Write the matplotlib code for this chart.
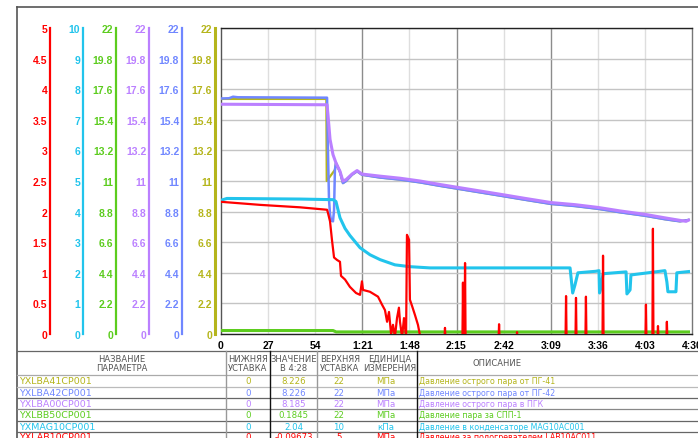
import matplotlib
matplotlib.use("Agg")
import matplotlib.pyplot as plt

plt.rcParams['font.family'] = ['Liberation Sans Narrow', 'Liberation Sans', 'DejaVu Sans']

# ---- data (time in seconds, 0..4:30) ----
x_ticks = [0, 27, 54, 81, 108, 135, 162, 189, 216, 243, 270]
x_tick_labels = ["0", "27", "54", "1:21", "1:48", "2:15", "2:42", "3:09", "3:36", "4:03", "4:30"]

# YXLAB10CP001, MPa, scale 0..5
red_t = [0, 22.4, 45.3, 60.8, 61.3, 62.5, 63.6, 64.8, 66.5, 68.2, 68.8, 71.1, 73.9, 77.4, 79.7,
         80.8, 81.4, 85.4, 90.0, 92.3, 94.0, 95.2, 96.3, 97.5, 98.6, 99.7, 100.9, 102.0, 102.6,
         103.8, 104.9, 106.1, 106.6, 107.8, 108.3, 109.5, 111.2, 112.9, 114.6,
         128.1, 128.4, 128.7, 138.4, 138.7, 139.0, 139.6, 139.9, 140.2, 159.1, 159.4, 159.7,
         169.4, 169.7, 170.0, 197.5, 197.8, 198.1, 203.2, 203.5, 203.8, 208.9, 209.2, 209.5,
         218.7, 219.0, 219.3, 243.3, 243.6, 243.9, 247.3, 247.6, 247.9, 250.2, 250.5, 250.8,
         255.3, 255.6, 255.9, 268]
red_v = [2.16, 2.11, 2.07, 2.03, 1.98, 1.84, 1.54, 1.25, 1.21, 1.18, 0.95, 0.89, 0.77, 0.67, 0.64,
         0.86, 0.72, 0.69, 0.61, 0.48, 0.39, 0.20, 0.36, 0.00, 0.15, -0.05, 0.26, 0.43, 0.20,
         -0.05, 0.26, -0.05, 1.62, 1.54, 0.56, 0.46, 0.31, 0.15, -0.10,
         -0.10, 0.10, -0.10, -0.10, 0.84, -0.10, -0.10, 1.16, -0.10, -0.10, 0.16, -0.10,
         -0.10, 0.03, -0.10, -0.10, 0.62, -0.10, -0.10, 0.59, -0.10, -0.10, 0.61, -0.10,
         -0.10, 1.28, -0.10, -0.10, 0.48, -0.10, -0.10, 1.72, -0.10, -0.10, 0.13, -0.10,
         -0.10, 0.20, -0.10, -0.10]

# YXMAG10CP001, kPa, scale 0..10
cyan_t = [0, 3.4, 45.3, 64.2, 65.9, 68.2, 71.1, 73.9, 79.7, 85.4, 91.2, 99.7, 108.3, 119.8,
          200.1, 201.6, 202.9, 204.6, 214.9, 216.7, 217.0, 217.8, 219.0, 232.2, 232.7, 234.5,
          235.0, 254.5, 255.6, 256.2, 260.8, 261.3, 268]
cyan_v = [4.37, 4.43, 4.41, 4.39, 4.33, 3.80, 3.45, 3.22, 2.82, 2.59, 2.43, 2.26, 2.20, 2.16,
          2.16, 1.34, 1.60, 2.00, 2.05, 2.07, 1.34, 1.50, 1.97, 2.03, 1.31, 1.44,
          1.93, 2.07, 1.70, 1.38, 1.38, 2.00, 2.04]

# YXLBA00CP001, MPa, scale 0..22
violet_t = [0, 60.8, 61.3, 62.5, 64.2, 65.9, 68.2, 69.9, 71.7, 75.1, 78.0, 80.8, 91.1, 102.6,
            114.1, 125.5, 142.7, 159.9, 174.3, 189.2, 202.9, 216.1, 228.7, 243.1, 254.5, 263.1,
            266.6, 268]
violet_v = [16.52, 16.48, 15.8, 14.0, 12.9, 12.3, 11.7, 11.0, 11.1, 11.5, 11.75, 11.5, 11.35, 11.2,
            11.0, 10.75, 10.4, 10.05, 9.75, 9.45, 9.3, 9.1, 8.85, 8.6, 8.35, 8.17,
            8.1, 8.185]

# YXLBA42CP001, MPa, scale 0..22
blue_t = [0, 4.6, 6.9, 9.7, 60.8, 61.3, 61.9, 62.5, 63.1, 64.2, 64.8, 65.3, 65.9, 68.2, 69.9,
          71.7, 75.1, 78.0, 80.8, 91.1, 102.6, 114.1, 125.5, 142.7, 159.9, 174.3, 189.2, 202.9,
          216.1, 228.7, 243.1, 254.5, 263.1, 268]
blue_v = [16.93, 16.95, 17.06, 17.02, 16.99, 13.3, 9.7, 8.6, 8.15, 8.1, 8.9, 11.8, 12.3, 11.65, 10.85,
          11.0, 11.45, 11.7, 11.45, 11.25, 11.1, 10.9, 10.65, 10.3, 9.95, 9.65, 9.35, 9.2,
          9.0, 8.75, 8.5, 8.25, 8.1, 8.2]

# YXLBA41CP001, MPa, scale 0..22 (mostly under the blue trace)
olive_t = [0, 60.4, 60.6, 65.3, 65.9, 68.2, 69.9, 71.7, 75.1, 78.0, 80.8, 91.1, 102.6, 114.1,
           125.5, 142.7, 159.9, 174.3, 189.2, 202.9, 216.1, 228.7, 243.1, 254.5, 263.1, 268]
olive_v = [16.9, 16.9, 11.0, 11.8, 12.3, 11.65, 10.85, 11.0, 11.45, 11.7, 11.45, 11.25, 11.1, 10.9,
           10.65, 10.3, 9.95, 9.65, 9.35, 9.2, 9.0, 8.75, 8.5, 8.25, 8.1, 8.2]

# YXLBB50CP001, MPa, scale 0..22
green_t = [0, 64.2, 66.0, 268]
green_v = [0.25, 0.25, 0.15, 0.15]

# table
tbl_names = ["YXLBA41CP001", "YXLBA42CP001", "YXLBA00CP001", "YXLBB50CP001", "YXMAG10CP001", "YXLAB10CP001"]
tbl_low = ["0", "0", "0", "0", "0", "0"]
tbl_value = ["8.226", "8.226", "8.185", "0.1845", "2.04", "-0.09673"]
tbl_high = ["22", "22", "22", "22", "10", "5"]
tbl_units = ["МПа", "МПа", "МПа", "МПа", "кПа", "МПа"]
tbl_desc = ["Давление острого пара от ПГ-41", "Давление острого пара от ПГ-42",
            "Давление острого пара в ПГК", "Давление пара за СПП-1",
            "Давление в конденсаторе MAG10AC001", "Давление за подогревателем LAB10AC011"]

RED = "#ff0000"
CYAN = "#22c4ec"
GREEN = "#5ccc1e"
VIOLET = "#bb80ff"
BLUE = "#7087ff"
OLIVE = "#b5b51c"
tbl_colors = [OLIVE, BLUE, VIOLET, GREEN, CYAN, RED]

W, H = 698, 439
AX_L, AX_R, AX_T, AX_B = 221, 692, 29, 335

fig = plt.figure(figsize=(W / 100, H / 100), dpi=100)

# overlay in pixel coords for frame + table
ov = fig.add_axes([0, 0, 1, 1])
ov.set_xlim(0, W)
ov.set_ylim(H, 0)
ov.axis("off")
ov.patch.set_visible(False)

ov.plot([17, W], [8, 8], color="#555555", lw=1.2)
ov.plot([17, 17], [8, H], color="#555555", lw=1.2)

# table grid
row_y = [352, 376, 388, 399, 410, 422, 433]
row_c = ["#666666", "#aaaaaa", "#bbbbbb", "#666666", "#888888", "#666666", "#666666"]
for y, c in zip(row_y, row_c):
    ov.plot([17, W], [y, y], color=c, lw=0.9)
for x, c in [(226, "#999999"), (270, "#111111"), (317, "#999999"), (417, "#111111")]:
    ov.plot([x, x], [352, H], color=c, lw=1)

hdr_kw = dict(ha="center", va="center", fontsize=6, color="#555555",
              family="DejaVu Sans", linespacing=1.05)
ov.text(121.5, 364, "НАЗВАНИЕ\nПАРАМЕТРА", **hdr_kw)
ov.text(248, 364, "НИЖНЯЯ\nУСТАВКА", **hdr_kw)
ov.text(293.5, 364, "ЗНАЧЕНИЕ\nВ 4:28", **hdr_kw)
ov.text(340, 364, "ВЕРХНЯЯ\nУСТАВКА", **hdr_kw)
ov.text(390, 364, "ЕДИНИЦА\nИЗМЕРЕНИЯ", **hdr_kw)
ov.text(497, 364, "ОПИСАНИЕ", **hdr_kw)

row_mid = [382, 393.5, 404.5, 416, 427.5, 437.5]
for i in range(len(tbl_names)):
    y = row_mid[i]
    kw = dict(va="center", color=tbl_colors[i], family="DejaVu Sans")
    ov.text(19, y, tbl_names[i], ha="left", fontsize=6.8, **kw)
    ov.text(248, y, tbl_low[i], ha="center", fontsize=6.2, **kw)
    ov.text(293.5, y, tbl_value[i], ha="center", fontsize=6.2, **kw)
    ov.text(339, y, tbl_high[i], ha="center", fontsize=6.2, **kw)
    ov.text(386, y, tbl_units[i], ha="center", fontsize=6.2, **kw)
    ov.text(419, y, tbl_desc[i], ha="left", fontsize=5.7, **kw)

# main plot area
ax = fig.add_axes([AX_L / W, 1 - AX_B / H, (AX_R - AX_L) / W, (AX_B - AX_T) / H])
ax.set_xlim(0, 270)
ax.set_ylim(0, 22)
ax.set_xticks(x_ticks)
ax.set_xticklabels(x_tick_labels)
ax.tick_params(axis="x", length=0, pad=4, labelsize=7.5)
for lbl in ax.get_xticklabels():
    lbl.set_fontweight("bold")
ax.set_yticks([22 * i / 10 for i in range(11)])
ax.set_yticklabels([])
ax.tick_params(axis="y", length=0)
ax.grid(axis="y", color="#c4c4c4", lw=1)
for xt in x_ticks[1:-1]:
    dark = xt in (81, 135, 189)
    ax.axvline(xt, color="#8c8c8c" if dark else "#dedede", lw=1, zorder=0.5)
ax.spines["top"].set_color("#222222")
ax.spines["bottom"].set_color("#222222")
ax.spines["right"].set_color("#777777")
ax.spines["left"].set_color("#555555")
for s in ax.spines.values():
    s.set_linewidth(1)


def make_scale(spine_px, ymax, color, lw=1.6):
    a = ax.twinx()
    a.set_xlim(0, 270)
    a.set_ylim(0, ymax)
    for s in ["top", "right", "bottom"]:
        a.spines[s].set_visible(False)
    a.spines["left"].set_visible(True)
    a.spines["left"].set_position(("axes", (spine_px - AX_L) / (AX_R - AX_L)))
    a.spines["left"].set_color(color)
    a.spines["left"].set_linewidth(lw)
    a.yaxis.set_ticks_position("left")
    a.set_yticks([ymax * i / 10 for i in range(11)])
    a.set_yticklabels([f"{ymax * i / 10:g}" for i in range(11)])
    a.tick_params(axis="y", length=0, pad=2, labelcolor=color, labelsize=7.5)
    for lbl in a.get_yticklabels():
        lbl.set_fontweight("bold")
    return a


# draw order: olive at bottom, red on top
ax_olive = make_scale(215, 22, OLIVE, lw=2.2)
ax_olive.plot(olive_t, olive_v, color=OLIVE, lw=1.6)

ax_blue = make_scale(182, 22, BLUE)
ax_blue.plot(blue_t, blue_v, color=BLUE, lw=1.8)

ax_violet = make_scale(149, 22, VIOLET)
ax_violet.plot(violet_t, violet_v, color=VIOLET, lw=2.2)

ax_green = make_scale(116, 22, GREEN)
ax_green.plot(green_t, green_v, color=GREEN, lw=2.2)

ax_cyan = make_scale(83, 10, CYAN)
ax_cyan.plot(cyan_t, cyan_v, color=CYAN, lw=2.2)

ax_red = make_scale(50, 5, RED)
ax_red.plot(red_t, red_v, color=RED, lw=1.6)

fig.savefig("out.png", dpi=100)
